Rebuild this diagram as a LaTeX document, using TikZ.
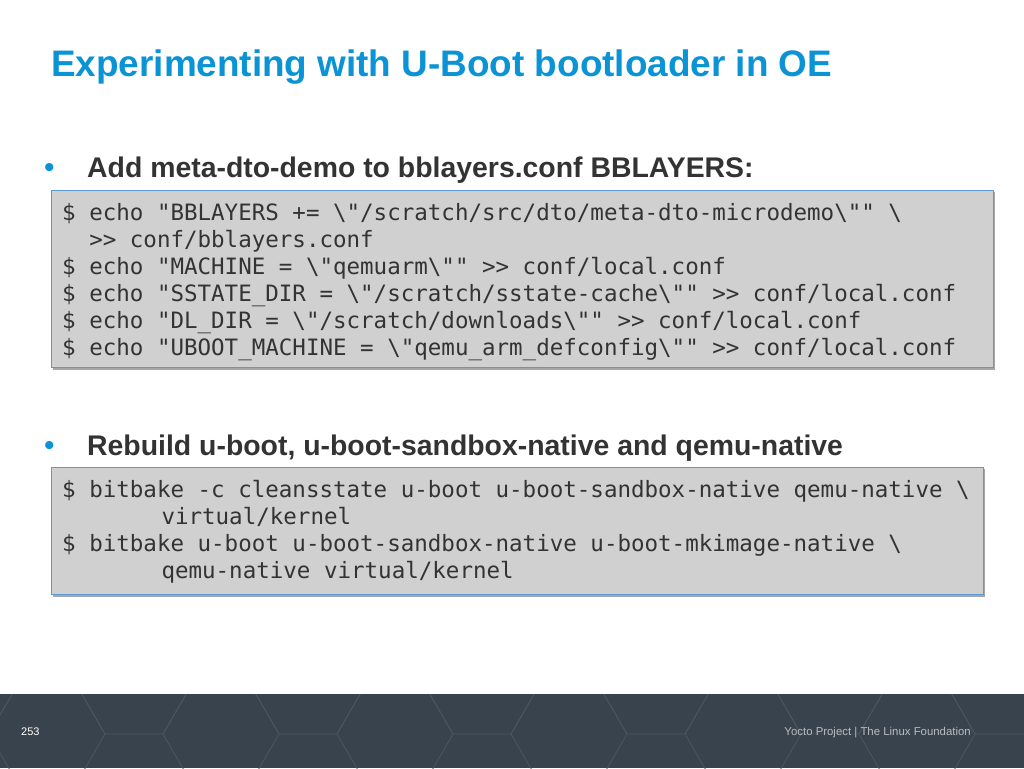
\documentclass[tikz,border=0pt]{standalone}
\usepackage{fontspec}
\setmainfont{Liberation Sans}
\newfontfamily\codefont{DejaVu Sans Mono}
\definecolor{titleblue}{HTML}{0A93D5}
\definecolor{bodygray}{HTML}{333333}
\definecolor{codefill}{HTML}{D0D0D0}
\definecolor{codeedge}{HTML}{5B9BD5}
\definecolor{footbg}{HTML}{38434D}
\definecolor{hexline}{HTML}{4A5661}
\tikzset{
  codebox/.style = {fill=codefill, draw=codeedge, line width=1pt},
  shadowbox/.style = {fill=black!35},
  codeline/.style = {anchor=base west, inner sep=0, font=\codefont\fontsize{22.5}{27}\selectfont, text=bodygray},
  bullettext/.style = {anchor=base west, inner sep=0, font=\bfseries\fontsize{28.4}{32}\selectfont, text=bodygray},
  bulletdot/.style = {anchor=base west, inner sep=0, text=titleblue, font=\fontsize{30}{32}\selectfont}
}
\newcommand{\bs}{\textbackslash}
\begin{document}
\begin{tikzpicture}[x=1pt, y=-1pt]
        \useasboundingbox (0,0) rectangle (1024,768);
        % footer band
        \fill[footbg] (0,694) rectangle (1024,768);
        \begin{scope}
          \clip (0,694) rectangle (1024,768);
          \foreach \i in {0,...,6} {
            \foreach \j in {0,1} {
              \draw[hexline, line width=0.8pt, shift={(\i*174 - 40 + \j*87, 734 + \j*50 - 50)}]
                (-58,0) -- (-29,-50) -- (29,-50) -- (58,0) -- (29,50) -- (-29,50) -- cycle;
            }
          }
        \end{scope}
        \node[anchor=base west, inner sep=0, text=white, font=\fontsize{11}{13}\selectfont] (pagenum) at (21,735) {253};
        \node[anchor=base east, inner sep=0, text=white!65!footbg, font=\fontsize{11.4}{13}\selectfont] (footer) at (971,735) {Yocto Project | The Linux Foundation};
        % title
        \node[anchor=base west, inner sep=0, text=titleblue, font=\bfseries\fontsize{36.9}{40}\selectfont] (title) at (51,76) {Experimenting with U-Boot bootloader in OE};
        % first bullet
        \node[bulletdot] (bulletA) at (44,177) {•};
        \node[bullettext] (itemA) at (87,177) {Add meta-dto-demo to bblayers.conf BBLAYERS:};
        \fill[shadowbox] (53,192) rectangle (995,370);
        \draw[codebox] (51,190) rectangle (993,367);
        \node[codeline] (codeA1) at (62,220) {\$ echo "BBLAYERS += \bs"/scratch/src/dto/meta-dto-microdemo\bs"" \bs};
        \node[codeline] (codeA2) at (62,247) {\phantom{00}>> conf/bblayers.conf};
        \node[codeline] (codeA3) at (62,274) {\$ echo "MACHINE = \bs"qemuarm\bs"" >> conf/local.conf};
        \node[codeline] (codeA4) at (62,301) {\$ echo "SSTATE\_DIR = \bs"/scratch/sstate-cache\bs"" >> conf/local.conf};
        \node[codeline] (codeA5) at (62,328) {\$ echo "DL\_DIR = \bs"/scratch/downloads\bs"" >> conf/local.conf};
        \node[codeline] (codeA6) at (62,355) {\$ echo "UBOOT\_MACHINE = \bs"qemu\_arm\_defconfig\bs"" >> conf/local.conf};
        % second bullet
        \node[bulletdot] (bulletB) at (44,455) {•};
        \node[bullettext] (itemB) at (87,455) {Rebuild u-boot, u-boot-sandbox-native and qemu-native};
        \fill[shadowbox] (53,469) rectangle (985,597);
        \draw[codebox] (51,467) rectangle (983,594);
        \node[codeline] (codeB1) at (62,497) {\$ bitbake -c cleansstate u-boot u-boot-sandbox-native qemu-native \bs};
        \node[codeline] (codeB2) at (62,524) {\phantom{0000000}\hspace{0.2em}virtual/kernel};
        \node[codeline] (codeB3) at (62,551) {\$ bitbake u-boot u-boot-sandbox-native u-boot-mkimage-native \bs};
        \node[codeline] (codeB4) at (62,578) {\phantom{0000000}\hspace{0.2em}qemu-native virtual/kernel};
\end{tikzpicture}
\end{document}
